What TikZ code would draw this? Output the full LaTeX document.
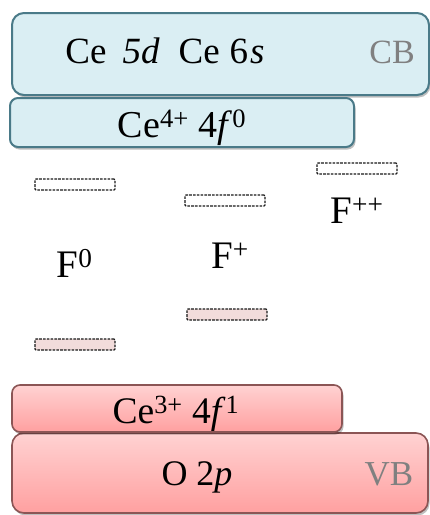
\documentclass[tikz,border=0pt]{standalone}
\usepackage{fontspec}
\setmainfont{Liberation Serif}
\usetikzlibrary{shadows}
\definecolor{bluefill}{HTML}{DAEEF3}
\definecolor{blueline}{HTML}{4A7A88}
\definecolor{pinktop}{HTML}{FFD2D2}
\definecolor{pinkbot}{HTML}{FFA0A0}
\definecolor{pinkline}{HTML}{8B5555}
\definecolor{levelpink}{HTML}{F2DCDB}
\definecolor{bandgray}{HTML}{808080}
\tikzset{
  bandshadow/.style={drop shadow={shadow xshift=1.5pt,shadow yshift=-2.5pt,fill=black,opacity=0.25}},
  blueband/.style={draw=blueline,line width=2pt,fill=bluefill,rounded corners=#1,bandshadow,inner sep=0pt},
  pinkband/.style={draw=pinkline,line width=1.6pt,top color=pinktop,bottom color=pinkbot,rounded corners=#1,bandshadow,inner sep=0pt},
  level/.style={draw=black!90,line width=1.2pt,dash pattern=on 2.6pt off 1.2pt,minimum width=80pt,minimum height=11pt,inner sep=0pt,rounded corners=1pt},
  emptylevel/.style={level,fill=white},
  filledlevel/.style={level,fill=levelpink},
  lbl/.style={anchor=base,inner sep=0pt,text=black},
  bandlbl/.style={anchor=base,inner sep=0pt,text=bandgray,font=\fontsize{34}{40}\selectfont},
}
\begin{document}
\begin{tikzpicture}[x=1pt,y=-1pt]
\useasboundingbox (0,0) rectangle (430,515);
% conduction band
\node[blueband=12pt,minimum width=417pt,minimum height=82pt] (cb) at (220.5,54) {};
\node[blueband=8pt,minimum width=344pt,minimum height=49pt] (ce4) at (182,122.5) {};
% valence band
\node[pinkband=12pt,minimum width=416pt,minimum height=80pt] (vb) at (220,473) {};
\node[pinkband=8pt,minimum width=330pt,minimum height=47pt] (ce3) at (177,408.5) {};
% labels in bands
\node[lbl,font=\fontsize{37}{40}\selectfont] (cbtext) at (165,63) {Ce\hspace{16pt}\textit{5d}\hspace{19pt}Ce\hspace{10pt}6\hspace{2pt}\textit{s}};
\node[bandlbl] (cblbl) at (392,63) {CB};
\node[lbl,font=\fontsize{38}{40}\selectfont] (ce4text) at (182,137) {Ce\textsuperscript{4+} 4\textit{f}\textsuperscript{0}};
\node[lbl,font=\fontsize{37.5}{40}\selectfont] (ce3text) at (176,423) {Ce\textsuperscript{3+} 4\textit{f}\textsuperscript{1}};
\node[lbl,font=\fontsize{36}{40}\selectfont] (otext) at (197,485) {O 2\textit{p}};
\node[bandlbl,font=\fontsize{35}{40}\selectfont] (vblbl) at (389,485) {VB};
% defect levels
\node[emptylevel] (f0up) at (75,184.5) {};
\node[filledlevel] (f0dn) at (75,344.5) {};
\node[emptylevel] (fpup) at (225,200.5) {};
\node[filledlevel] (fpdn) at (227,314.5) {};
\node[emptylevel] (fppup) at (357,168.5) {};
% defect labels
\node[lbl,font=\fontsize{39}{40}\selectfont] (f0) at (74.5,277) {F\textsuperscript{0}};
\node[lbl,font=\fontsize{39}{40}\selectfont] (fp) at (230,268) {F\textsuperscript{+}};
\node[lbl,font=\fontsize{39}{40}\selectfont] (fpp) at (357,223) {F\textsuperscript{++}};
\end{tikzpicture}
\end{document}
